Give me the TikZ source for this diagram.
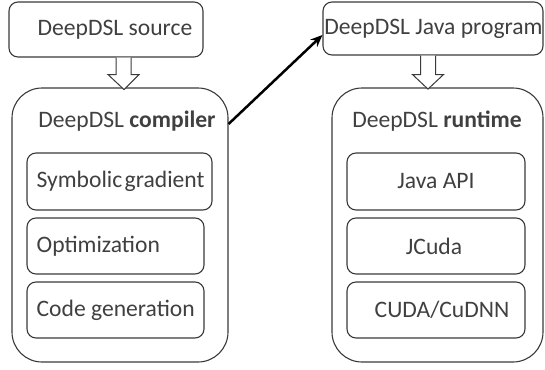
\documentclass[tikz,border=0pt]{standalone}
\usepackage{fontspec}
\setmainfont{Carlito}
\usetikzlibrary{arrows.meta,calc}
\definecolor{ink}{HTML}{3A3A3A}
\definecolor{txt}{HTML}{404040}
\begin{document}
\begin{tikzpicture}[x=1pt,y=-1pt,
  every node/.style={font=\fontsize{23.6}{28}\selectfont, text=txt},
  smallbox/.style={draw=ink, line width=1.1pt, rounded corners=9pt, fill=white, inner sep=0pt},
  bigbox/.style={draw=ink, line width=1.1pt, rounded corners=30pt, inner sep=0pt},
  hollow/.style={draw=ink, line width=1pt, fill=white, line join=miter},
  flow/.style={line width=2.5pt, black, -{Stealth[length=12pt,width=10pt]}}]
\useasboundingbox (0,0) rectangle (545,369);
% top boxes
\node[smallbox, minimum width=194pt, minimum height=55pt] (src) at (106,29.5) {};
\node (srct) at (115,29.5) {DeepDSL source};
\node[smallbox, minimum width=220pt, minimum height=53pt] (java) at (433,28.5) {};
\node[inner sep=0pt] (javat) at (433.5,28.5) {DeepDSL Java program};
% big boxes
\node[bigbox, minimum width=216pt, minimum height=274pt] (comp) at (120,225) {};
\node[bigbox, minimum width=211pt, minimum height=274pt] (rt) at (437.5,225) {};
\node (comphead) at (127,121) {DeepDSL \textbf{compiler}};
\node (rthead) at (437,121) {DeepDSL \textbf{runtime}};
% compiler inner boxes
\node[smallbox, minimum width=185pt, minimum height=57pt] (sym) at (119.5,181.5) {};
\node[smallbox, minimum width=177pt, minimum height=56pt] (opt) at (115.5,246) {};
\node[smallbox, minimum width=177pt, minimum height=56pt] (cg) at (115.5,310) {};
\node[anchor=west, inner sep=0pt] (symt) at ([xshift=10pt]sym.west) {Symbolic\hspace{0.1em}gradient};
\node[anchor=west, inner sep=0pt] (optt) at ([xshift=10pt]opt.west) {Optimization};
\node[anchor=west, inner sep=0pt] (cgt) at ([xshift=10pt]cg.west) {Code generation};
% runtime inner boxes
\node[smallbox, minimum width=178pt, minimum height=57pt] (api) at (436,181.5) {};
\node[smallbox, minimum width=178pt, minimum height=56pt] (jc) at (436,246) {};
\node[smallbox, minimum width=178pt, minimum height=56pt] (cu) at (436,310) {};
\node (apit) at (436,181.5) {Java API};
\node (jct) at (434,246) {JCuda};
\node (cut) at (442,310) {CUDA/CuDNN};
% hollow arrows
\coordinate (h1) at ($(src.south)+(17.5,0)$);
\draw[hollow] ($(h1)+(-7.5,0)$) -- ($(h1)+(-7.5,17)$) -- ($(h1)+(-15.5,17)$) -- ($(h1)+(0.5,32)$)
  -- ($(h1)+(15.5,17)$) -- ($(h1)+(7.5,17)$) -- ($(h1)+(7.5,0)$);
\coordinate (h2) at ($(java.south)+(-5,0)$);
\draw[hollow] ($(h2)+(-7.5,0)$) -- ($(h2)+(-7.5,19)$) -- ($(h2)+(-15.5,19)$) -- ($(h2)+(0,33.5)$)
  -- ($(h2)+(15.5,19)$) -- ($(h2)+(7.5,19)$) -- ($(h2)+(7.5,0)$);
% flow arrow
\draw[flow] ([yshift=-3pt]comp.east |- comphead) -- ([yshift=-6.5pt]java.west);
\end{tikzpicture}
\end{document}
